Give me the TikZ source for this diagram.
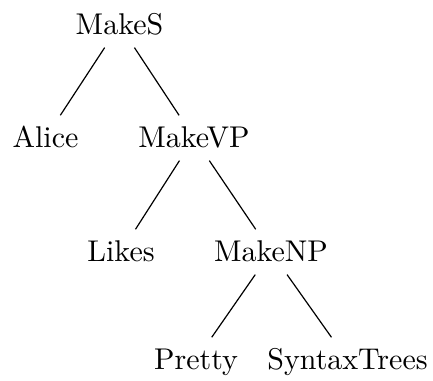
\documentclass[tikz,border=0pt]{standalone}

\begin{document}
\begin{tikzpicture}[x=0.3333pt,y=-0.3333pt]
	\tikzstyle{word}=[anchor=base,inner sep=0pt,text height=10.7pt,text depth=4pt]
	\useasboundingbox (0,0) rectangle (433,381);
	
	% Draw the root node
	\node[word] (S) at (119.5,35) {MakeS};
	
	% Draw the second level nodes
	\node[word] (Alice) at (45.5,148) {Alice};
	\node[word] (VP) at (194,148) {MakeVP};
	
	% Draw the third level nodes
	\node[word] (Likes) at (121,262) {Likes};
	\node[word] (NP) at (271,262) {MakeNP};
	
	% Draw the leaf nodes
	\node[word] (Pretty) at (196,370) {Pretty};
	\node[word] (Trees) at (347.5,370) {SyntaxTrees};
	
	% Connect every parent with its children
	\foreach \source/\dest in {S/Alice,S/VP,VP/Likes,VP/NP,NP/Pretty,NP/Trees}
	\draw (\source) -- (\dest);
	
\end{tikzpicture}
\end{document}
